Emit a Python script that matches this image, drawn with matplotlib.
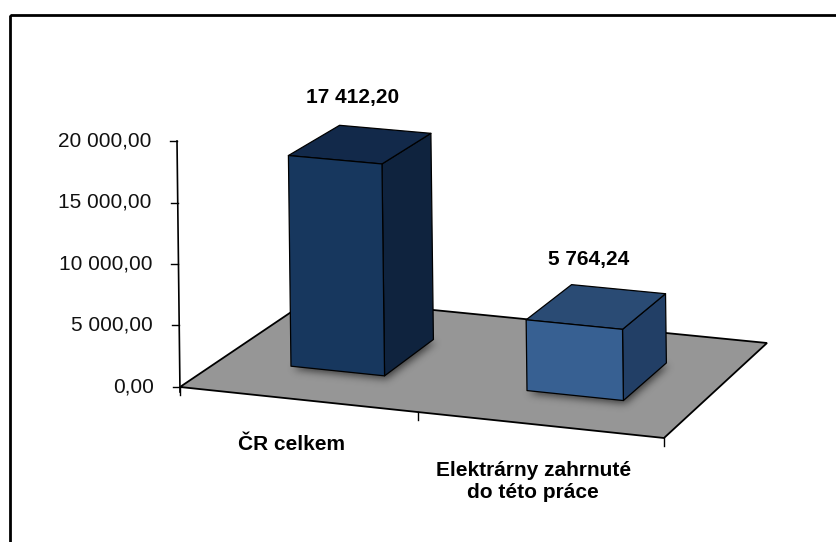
import numpy as np
import matplotlib.pyplot as plt
from matplotlib.patches import Polygon, Rectangle
from matplotlib.path import Path

categories = ["ČR celkem", "Elektrárny zahrnuté\ndo této práce"]
values = [17412.20, 5764.24]
value_ticks = [0, 5000, 10000, 15000, 20000]

front_colors = ["#17375E", "#376092"]
top_colors = ["#12294A", "#2A4B74"]
side_colors = ["#0F233E", "#223F66"]
floor_color = "#969696"

plt.rcParams["font.family"] = ["Liberation Sans", "DejaVu Sans"]

W, H_PX = 837, 542


def fmt(v):
    return f"{v:,.2f}".replace(",", " ").replace(".", ",")


# perspective of the floor plane: (category, depth) -> pixels
src = [(0, 0), (2, 0), (2, 1), (0, 1)]
dst = [(180, 387), (664, 438), (767, 343), (312, 298)]
A, b = [], []
for (x, z), (u, v) in zip(src, dst):
    A.append([x, z, 1, 0, 0, 0, -u * x, -u * z])
    b.append(u)
    A.append([0, 0, 0, x, z, 1, -v * x, -v * z])
    b.append(v)
Hm = np.append(np.linalg.solve(np.array(A, float), np.array(b, float)), 1).reshape(3, 3)

k_val = 246 / 20000   # px per unit of value at the front corner
lean = 3 / 20000


def proj(x, z, val=0.0):
    p = Hm @ np.array([x, z, 1.0])
    w = p[2]
    return (p[0] / w - lean * val / w, p[1] / w - k_val * val / w)


fig = plt.figure(figsize=(W / 100, H_PX / 100), dpi=100)
ax = fig.add_axes([0, 0, 1, 1])
ax.set_xlim(0, W)
ax.set_ylim(H_PX, 0)
ax.axis("off")

# floor
floor_pts = [proj(0, 0), proj(2, 0), proj(2, 1), proj(0, 1)]
floor = Polygon(floor_pts, closed=True, facecolor=floor_color,
                edgecolor="black", lw=1.3, zorder=1, joinstyle="miter")
ax.add_patch(floor)

bar_w, bar_z0, bar_z1 = 0.4, 0.3, 0.7

# soft shadows under the bars
mask = np.zeros((H_PX, W))
yy, xx = np.mgrid[0:H_PX, 0:W]
grid = np.column_stack([xx.ravel() + 0.5, yy.ravel() + 0.5])
for i in range(len(values)):
    x0 = i + 0.5 - bar_w / 2
    x1 = i + 0.5 + bar_w / 2
    foot = [proj(x0, bar_z0), proj(x1, bar_z0), proj(x1, bar_z1), proj(x0, bar_z1)]
    foot = [(px + 2, py + 3) for px, py in foot]
    mask += Path(foot).contains_points(grid).reshape(H_PX, W)
sig = 4.0
kx = np.arange(-14, 15)
kern = np.exp(-kx ** 2 / (2 * sig ** 2))
kern /= kern.sum()
blur = np.apply_along_axis(lambda r: np.convolve(r, kern, mode="same"), 1, mask)
blur = np.apply_along_axis(lambda c: np.convolve(c, kern, mode="same"), 0, blur)
rgba = np.zeros((H_PX, W, 4))
rgba[..., 3] = np.clip(blur, 0, 1) * 0.6
shadow = ax.imshow(rgba, extent=(0, W, H_PX, 0), zorder=2, interpolation="bilinear")
shadow.set_clip_path(floor)
ax.set_xlim(0, W)
ax.set_ylim(H_PX, 0)

# bars
for i, val in enumerate(values):
    x0 = i + 0.5 - bar_w / 2
    x1 = i + 0.5 + bar_w / 2
    front = [proj(x0, bar_z0, 0), proj(x1, bar_z0, 0), proj(x1, bar_z0, val), proj(x0, bar_z0, val)]
    side = [proj(x1, bar_z0, 0), proj(x1, bar_z1, 0), proj(x1, bar_z1, val), proj(x1, bar_z0, val)]
    top = [proj(x0, bar_z0, val), proj(x1, bar_z0, val), proj(x1, bar_z1, val), proj(x0, bar_z1, val)]
    for pts, col in [(side, side_colors[i]), (top, top_colors[i]), (front, front_colors[i])]:
        ax.add_patch(Polygon(pts, closed=True, facecolor=col, edgecolor="black",
                             lw=0.9, zorder=3, joinstyle="round"))
    lx, ly = proj(i + 0.5, 0.5, val)
    ax.text(lx - 8, ly - 47, fmt(val), ha="center", va="center",
            fontsize=15, fontweight="bold", zorder=5)

# value axis
ax0 = proj(0, 0, 0)
ax1 = proj(0, 0, value_ticks[-1])
ax.plot([ax0[0], ax1[0]], [ax0[1] + 5, ax1[1]], color="black", lw=1.2, zorder=4)
for t in value_ticks:
    tx, ty = proj(0, 0, t)
    ax.plot([tx - 7, tx], [ty, ty], color="black", lw=1.0, zorder=4)
    ax.text(tx - 26, ty, fmt(t), ha="right", va="center", fontsize=15,
            color="#111111", zorder=5)

# category axis ticks along the front edge
for c in range(len(categories) + 1):
    cx, cy = proj(c, 0)
    ax.plot([cx, cx], [cy, cy + 8], color="black", lw=1.0, zorder=4)

for i, name in enumerate(categories):
    cx, cy = proj(i + 0.5, 0)
    ax.text(cx - 7, cy + 36, name, ha="center", va="top", fontsize=15,
            fontweight="bold", linespacing=1.2, zorder=5)

# outer frame
ax.add_patch(Rectangle((10, 15), 900, 600, fill=False, edgecolor="black", lw=2, zorder=6))

fig.savefig("out.png", dpi=100)
